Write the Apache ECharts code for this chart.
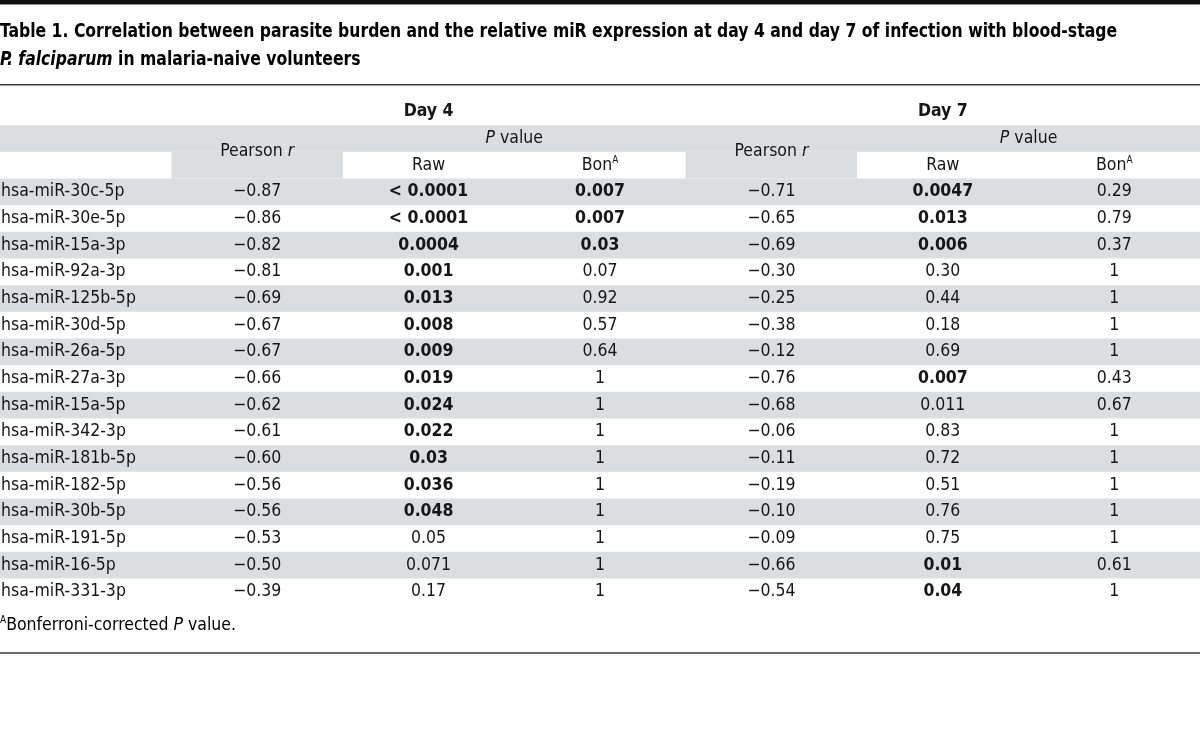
<!DOCTYPE html>
<html><head><meta charset="utf-8">
<script src="https://cdn.jsdelivr.net/npm/echarts@6/dist/echarts.min.js"></script>
<style>html,body{margin:0;padding:0;background:#fff}#c{width:1200px;height:749px}</style>
</head><body><div id="c"></div>
<script>
// ---------------- data ----------------
const titleLine1 = 'Table 1. Correlation between parasite burden and the relative miR expression at day 4 and day 7 of infection with blood-stage';
const titleItalic = 'P. falciparum';
const titleRest = ' in malaria-naive volunteers';
const groupLabels = ['Day 4', 'Day 7'];
const footnote = 'Bonferroni-corrected ';

const genes = ['hsa-miR-30c-5p','hsa-miR-30e-5p','hsa-miR-15a-3p','hsa-miR-92a-3p','hsa-miR-125b-5p','hsa-miR-30d-5p','hsa-miR-26a-5p','hsa-miR-27a-3p','hsa-miR-15a-5p','hsa-miR-342-3p','hsa-miR-181b-5p','hsa-miR-182-5p','hsa-miR-30b-5p','hsa-miR-191-5p','hsa-miR-16-5p','hsa-miR-331-3p'];
const day4PearsonR = [-0.87,-0.86,-0.82,-0.81,-0.69,-0.67,-0.67,-0.66,-0.62,-0.61,-0.60,-0.56,-0.56,-0.53,-0.50,-0.39];
const day4RawP = ['< 0.0001','< 0.0001','0.0004','0.001','0.013','0.008','0.009','0.019','0.024','0.022','0.03','0.036','0.048','0.05','0.071','0.17'];
const day4RawBold = [1,1,1,1,1,1,1,1,1,1,1,1,1,0,0,0];
const day4BonP = ['0.007','0.007','0.03','0.07','0.92','0.57','0.64','1','1','1','1','1','1','1','1','1'];
const day4BonBold = [1,1,1,0,0,0,0,0,0,0,0,0,0,0,0,0];
const day7PearsonR = [-0.71,-0.65,-0.69,-0.30,-0.25,-0.38,-0.12,-0.76,-0.68,-0.06,-0.11,-0.19,-0.10,-0.09,-0.66,-0.54];
const day7RawP = ['0.0047','0.013','0.006','0.30','0.44','0.18','0.69','0.007','0.011','0.83','0.72','0.51','0.76','0.75','0.01','0.04'];
const day7RawBold = [1,1,1,0,0,0,0,1,0,0,0,0,0,0,1,1];
const day7BonP = ['0.29','0.79','0.37','1','1','1','1','0.43','0.67','1','1','1','1','1','0.61','1'];
const day7BonBold = [0,0,0,0,0,0,0,0,0,0,0,0,0,0,0,0];

// ---------------- styles ----------------
const BODY_FONT = '"DejaVu Sans Condensed", "DejaVu Sans", sans-serif';
const TITLE_FONT = '"DejaVu Sans Condensed", "DejaVu Sans", sans-serif';
const FS = 17.5;
const INK = '#161616';
const SHADE = '#dcdddf';
const TITLE_FS = 20;

const ctx = document.createElement('canvas').getContext('2d');
ctx.font = 'bold ' + TITLE_FS + 'px ' + TITLE_FONT;
const titleScale = 1117 / ctx.measureText(titleLine1).width;

const fmtR = v => v.toFixed(2).replace('-', '\u2212');
const richBase = {
  i: {fontStyle: 'italic', fontSize: FS, fontFamily: BODY_FONT, color: INK},
  sup: {fontSize: 10, fontFamily: BODY_FONT, color: INK, verticalAlign: 'top', lineHeight: 12},
  n: {fontSize: FS, fontFamily: BODY_FONT, color: INK, lineHeight: 20}
};

// ---------------- table model (row/col indices) ----------------
const HEAD = 3;
const cells = [];
function cell(x, y, text, opts) { cells.push(Object.assign({x, y, text}, opts || {})); }
groupLabels.forEach((g, k) => cell(2.5 + 3 * k, 0.5, g, {bold: true}));
[0, 1].forEach(k => {
  const c0 = 1 + 3 * k;
  cell(c0 + 0.5, 2, '{n|Pearson }{i|r}', {rich: true});
  cell(c0 + 2, 1.5, '{i|P}{n| value}', {rich: true});
  cell(c0 + 1.5, 2.5, 'Raw');
  cell(c0 + 2.5, 2.5, '{n|Bon}{sup|A}', {rich: true});
});
genes.forEach((g, r) => {
  const y = HEAD + r + 0.5;
  cell(0, y, g, {left: true});
  cell(1.5, y, fmtR(day4PearsonR[r]));
  cell(2.5, y, day4RawP[r], {bold: !!day4RawBold[r]});
  cell(3.5, y, day4BonP[r], {bold: !!day4BonBold[r]});
  cell(4.5, y, fmtR(day7PearsonR[r]));
  cell(5.5, y, day7RawP[r], {bold: !!day7RawBold[r]});
  cell(6.5, y, day7BonP[r], {bold: !!day7BonBold[r]});
});

const bands = [[0, 7, 1, 1], [1, 2, 2, 1], [4, 5, 2, 1]];
genes.forEach((g, r) => { if (r % 2 === 0) bands.push([0, 7, HEAD + r, 1]); });

const titleRich = {
  b: {fontFamily: TITLE_FONT, fontWeight: 'bold', fontSize: TITLE_FS, color: INK, lineHeight: 28},
  bi: {fontFamily: TITLE_FONT, fontWeight: 'bold', fontStyle: 'italic', fontSize: TITLE_FS, color: INK, lineHeight: 28}
};

const chart = echarts.init(document.getElementById('c'), null, {renderer: 'canvas'});
chart.setOption({
  animation: false,
  backgroundColor: '#fff',
  grid: {left: 0, right: 0, top: 98.5, height: 26.667 * (HEAD + genes.length)},
  xAxis: {type: 'value', min: 0, max: 7, show: false},
  yAxis: {type: 'value', min: 0, max: HEAD + genes.length, inverse: true, show: false},
  graphic: [
    {type: 'rect', shape: {x: 0, y: 0, width: 1200, height: 4.5}, style: {fill: '#111'}, silent: true},
    {type: 'text', x: 0, y: 18, scaleX: titleScale, silent: true,
      style: {text: '{b|' + titleLine1 + '}\n{bi|' + titleItalic + '}{b|' + titleRest + '}', rich: titleRich}},
    {type: 'rect', shape: {x: 0, y: 84, width: 1200, height: 1.6}, style: {fill: '#3a3a3a'}, silent: true},
    {type: 'rect', shape: {x: 0, y: 652.2, width: 1200, height: 1.6}, style: {fill: '#3a3a3a'}, silent: true},
    {type: 'text', left: 0, top: 615, silent: true,
      style: {text: '{sup|A}{n|' + footnote + '}{i|P}{n| value.}', rich: richBase}}
  ],
  series: [
    {
      type: 'custom', clip: false, silent: true, z: 1,
      data: bands,
      renderItem(params, api) {
        const p0 = api.coord([api.value(0), api.value(2)]);
        const p1 = api.coord([api.value(1), api.value(2) + api.value(3)]);
        return {type: 'rect', shape: {x: p0[0], y: Math.min(p0[1], p1[1]), width: p1[0] - p0[0], height: Math.abs(p1[1] - p0[1])},
          style: {fill: SHADE}};
      }
    },
    {
      type: 'custom', clip: false, silent: true, z: 2,
      data: cells.map((c, i) => [c.x, c.y, i]),
      renderItem(params, api) {
        const c = cells[params.dataIndex];
        const p = api.coord([api.value(0), api.value(1)]);
        const style = {
          text: c.text, x: 0, y: 0,
          fill: INK, fontSize: FS, fontFamily: BODY_FONT,
          fontWeight: c.bold ? 'bold' : 'normal',
          align: c.left ? 'left' : 'center', verticalAlign: 'middle'
        };
        if (c.rich) style.rich = richBase;
        return {type: 'text', x: p[0] + (c.left ? 1 : 0), y: p[1], style};
      }
    }
  ]
});
</script></body></html>
